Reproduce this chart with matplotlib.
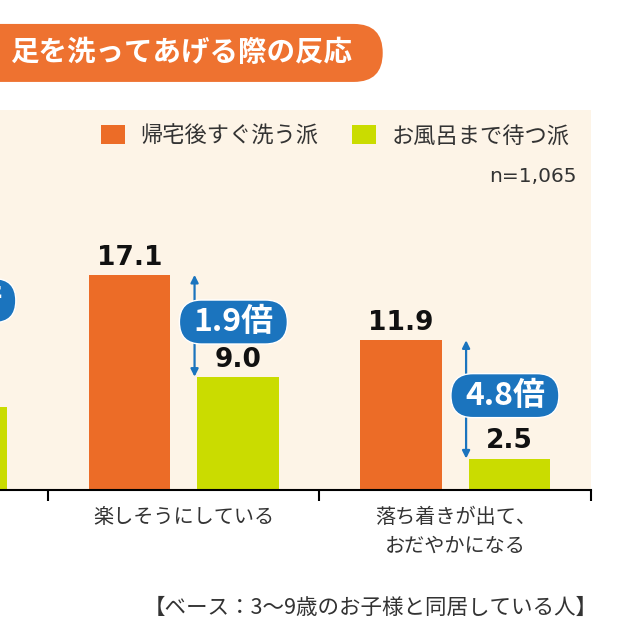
import numpy as np
import matplotlib.pyplot as plt
from matplotlib.patches import FancyBboxPatch
from matplotlib.transforms import ScaledTranslation

plt.rcParams['font.family'] = ['Noto Sans CJK JP', 'DejaVu Sans']

# data
categories = ['気持ちよさそう', '楽しそうにしている', '落ち着きが出て、\nおだやかになる']
series_names = ['帰宅後すぐ洗う派', 'お風呂まで待つ派']
after_return = [22.9, 17.1, 11.9]   # 帰宅後すぐ洗う派
before_bath = [6.6, 9.0, 2.5]       # お風呂まで待つ派
sample_note = 'n=1,065'
title = '足を洗ってあげる際の反応'
footnote = '【ベース：3～9歳のお子様と同居している人】'

orange = '#EC6C27'
green = '#CADC00'
blue = '#1B74BE'
cream = '#FDF4E7'
title_orange = '#EE7230'
txt = '#333333'

W = 640.0
fig = plt.figure(figsize=(6.4, 6.4), dpi=100)
ax = fig.add_axes([0, 150 / W, 591 / W, 380 / W])
ax.set_facecolor(cream)

x = np.arange(len(categories))
bw = 0.30
b1 = ax.bar(x - 0.2, after_return, bw, color=orange, zorder=2)
b2 = ax.bar(x + 0.2, before_bath, bw, color=green, zorder=2)

# value labels
for xi, v in zip(x - 0.2, after_return):
    ax.annotate(f'{v:.1f}', (xi, v), xytext=(0, 3), textcoords='offset points',
                ha='center', va='bottom', fontsize=19, fontweight='bold',
                family='DejaVu Sans', color='#111111', zorder=6)
for xi, v in zip(x + 0.2, before_bath):
    ax.annotate(f'{v:.1f}', (xi, v), xytext=(0, 3), textcoords='offset points',
                ha='center', va='bottom', fontsize=19, fontweight='bold',
                family='DejaVu Sans', color='#111111', zorder=6)

# ratio arrows + pill badges (badge size fixed in inches)
for xi, a, b in zip(x, after_return, before_bath):
    ax.annotate('', xy=(xi + 0.04, b), xytext=(xi + 0.04, a),
                arrowprops=dict(arrowstyle='<|-|>', color=blue, lw=1.6,
                                shrinkA=0, shrinkB=0, mutation_scale=11),
                zorder=3)
    xc, yc = xi + 0.183, (a + b) / 2 + 0.3
    trans = fig.dpi_scale_trans + ScaledTranslation(xc, yc, ax.transData)
    pill = FancyBboxPatch((-0.54, -0.22), 1.08, 0.44,
                          boxstyle='round,pad=0,rounding_size=0.22',
                          transform=trans, fc=blue, ec='white', lw=1,
                          zorder=4, clip_on=False)
    ax.add_artist(pill)
    ax.text(xc, yc, f'{a / b:.1f}倍', ha='center', va='center',
            fontsize=23, fontweight='bold', color='white', zorder=5)

# axes styling
for s in ['left', 'right', 'top']:
    ax.spines[s].set_visible(False)
ax.spines['bottom'].set_linewidth(1.5)
ax.set_yticks([])
ax.set_xticks(x)
ax.set_xticklabels(categories, fontsize=14.5, color=txt, linespacing=1.5)
ax.tick_params(axis='x', which='major', length=0, pad=12)
ax.set_xticks([0.5, 1.5, 2.5], minor=True)
ax.tick_params(axis='x', which='minor', length=8, width=1.5, direction='out')

# the chart is a crop: first category mostly outside the frame
ax.set_xlim(0.3235, 2.5)
ax.set_ylim(0, 30.2)

ax.legend(handles=[b1, b2], labels=series_names, loc='center right',
          bbox_to_anchor=(570 / 591, (490 - 136) / 380), ncol=2, frameon=False,
          fontsize=16, handlelength=1.1, handleheight=0.95, handletextpad=0.7,
          columnspacing=1.5, borderpad=0, borderaxespad=0, labelcolor=txt)

ax.text(577 / 591, (490 - 176) / 380, sample_note, transform=ax.transAxes,
        ha='right', va='center', fontsize=14.5, family='DejaVu Sans', color=txt)

# title banner
banner = FancyBboxPatch((-0.1, 0.872), 0.698, 0.0906,
                        boxstyle='round,pad=0,rounding_size=0.045',
                        transform=fig.transFigure, fc=title_orange, ec='none')
fig.add_artist(banner)
fig.text(181 / W, 1 - 53 / W, title, ha='center', va='center',
         fontsize=20.5, fontweight='bold', color='white')

fig.text(598 / W, 1 - 608 / W, footnote, ha='right', va='center',
         fontsize=15.5, color=txt)

fig.savefig('out.png', dpi=100)
